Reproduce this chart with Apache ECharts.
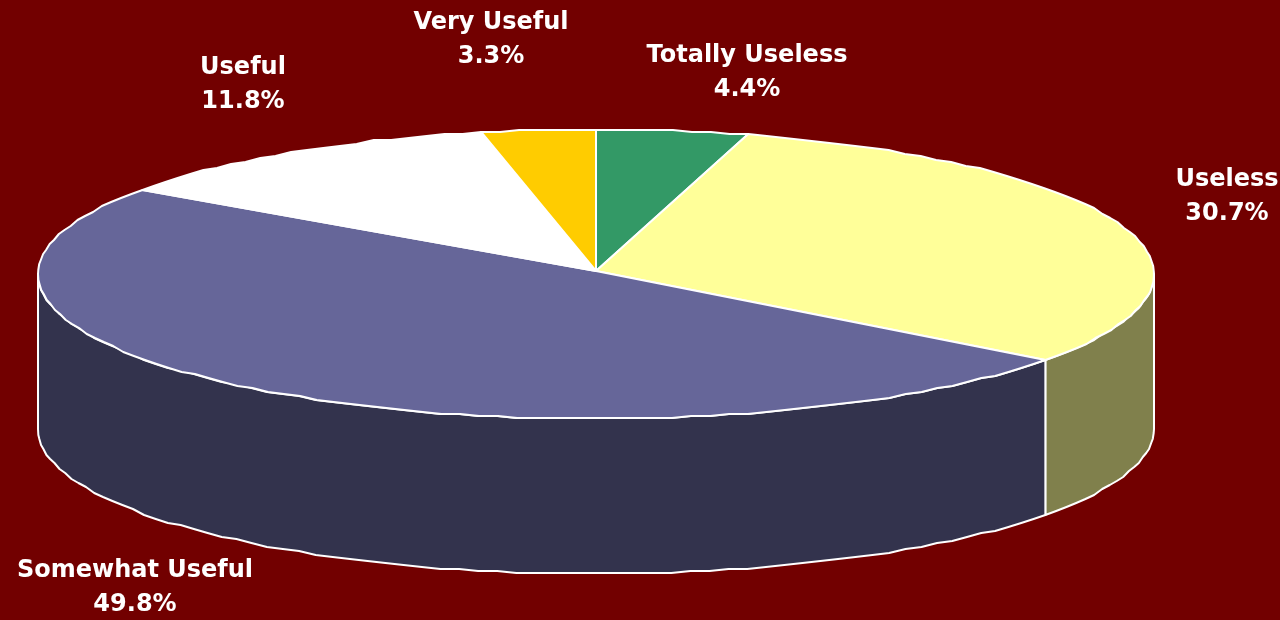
<!DOCTYPE html>
<html>
<head>
<meta charset="utf-8">
<style>html,body{margin:0;padding:0;background:#720000;}#c{width:1280px;height:620px;}</style>
<script src="https://cdn.jsdelivr.net/npm/echarts@6/dist/echarts.min.js"></script>
</head>
<body>
<div id="c"></div>
<script>
// Data
const categories = ['Totally Useless', 'Useless', 'Somewhat Useful', 'Useful', 'Very Useful'];
const shares = [4.4, 30.7, 49.8, 11.8, 3.3];
const percentLabels = ['4.4%', '30.7%', '49.8%', '11.8%', '3.3%'];

// Styles and layout
const topColors = ['#339966', '#FFFF99', '#666699', '#FFFFFF', '#FFCC00'];
const sideColors = ['#1A4D33', '#80804C', '#33334D', '#808080', '#806600'];
const labelCentres = [[747, 73], [1227, 197], [135, 588], [243, 85], [491, 40]];
const pie = {cx: 596, cy: 274, apexY: 271, rx: 558, ry: 145, depth: 155};
const total = shares.reduce((a, b) => a + b, 0);
const STEP = 2;
const SNAP = 2;   // the outline of the reference is slightly faceted

function point(deg, dy) {
  const r = deg * Math.PI / 180;
  const y = pie.cy - pie.ry * Math.cos(r);
  return [pie.cx + pie.rx * Math.sin(r), Math.round(y / SNAP) * SNAP + (dy || 0)];
}
function arc(from, to, dy) {
  const pts = [];
  const n = Math.max(1, Math.ceil((to - from) / STEP));
  for (let i = 0; i <= n; i++) pts.push(point(from + (to - from) * i / n, dy));
  return pts;
}
function angles(api) {
  const i = api.value(2);
  let before = 0;
  for (let k = 0; k < i; k++) before += shares[k];
  return [before / total * 360, (before + api.value(0)) / total * 360];
}
const stroke = {stroke: '#FFFFFF', lineWidth: 2, lineJoin: 'round'};
const seriesData = shares.map((v, i) => ({name: categories[i], value: [v, percentLabels[i], i]}));

function renderSide(params, api) {
  const [a, b] = angles(api);
  const from = Math.max(a, 90), to = Math.min(b, 270);
  if (to <= from) return {type: 'group', children: []};
  const pts = arc(from, to, 0).concat(arc(from, to, pie.depth).reverse());
  return {type: 'polygon', shape: {points: pts},
    style: Object.assign({fill: sideColors[params.dataIndex]}, stroke)};
}
function renderTop(params, api) {
  const [a, b] = angles(api);
  const pts = [[pie.cx, pie.apexY]].concat(arc(a, b, 0));
  return {type: 'polygon', shape: {points: pts},
    style: Object.assign({fill: topColors[params.dataIndex]}, stroke)};
}
function renderLabel(params, api) {
  const c = labelCentres[params.dataIndex];
  return {type: 'text', x: c[0], y: c[1],
    style: {text: categories[params.dataIndex] + '\n' + api.value(1),
      fill: '#FFFFFF', font: 'bold 24px "DejaVu Sans", sans-serif',
      align: 'center', verticalAlign: 'middle', lineHeight: 34}};
}

const chart = echarts.init(document.getElementById('c'), null, {renderer: 'canvas'});
chart.setOption({
  backgroundColor: '#720000',
  animation: false,
  series: [
    {type: 'custom', coordinateSystem: 'none', silent: true, z: 1, renderItem: renderSide, data: seriesData},
    {type: 'custom', coordinateSystem: 'none', silent: true, z: 2, renderItem: renderTop, data: seriesData},
    {type: 'custom', coordinateSystem: 'none', silent: true, z: 3, renderItem: renderLabel, data: seriesData}
  ]
});
</script>
</body>
</html>
